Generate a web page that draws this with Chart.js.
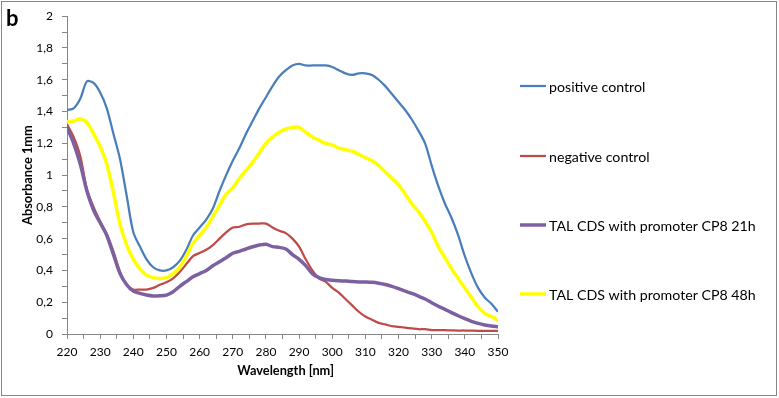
<!DOCTYPE html>
<html>
<head>
<meta charset="utf-8">
<script src="https://cdn.jsdelivr.net/npm/chart.js@4"></script>
<style>
  body { margin: 0; background: #fff; }
  #chart { display: block; }
</style>
</head>
<body>
<canvas id="chart" width="779" height="398"></canvas>
<script>
// wavelengths, 2 nm steps
const wavelengths = [220,222,224,226,228,230,232,234,236,238,240,242,244,246,248,250,252,254,256,258,260,262,264,266,268,270,272,274,276,278,280,282,284,286,288,290,292,294,296,298,300,302,304,306,308,310,312,314,316,318,320,322,324,326,328,330,332,334,336,338,340,342,344,346,348,350];

const positiveControl = [1.41,1.42,1.48,1.59,1.58,1.52,1.42,1.26,1.10,0.87,0.64,0.55,0.47,0.42,0.40,0.40,0.42,0.46,0.53,0.62,0.67,0.72,0.79,0.90,1.00,1.09,1.17,1.26,1.34,1.42,1.49,1.56,1.62,1.66,1.69,1.70,1.69,1.69,1.69,1.69,1.68,1.66,1.64,1.63,1.64,1.64,1.63,1.60,1.56,1.51,1.46,1.41,1.35,1.28,1.20,1.06,0.93,0.82,0.73,0.62,0.49,0.38,0.29,0.23,0.19,0.14];

const negativeControl = [1.32,1.24,1.12,0.91,0.80,0.71,0.63,0.52,0.39,0.31,0.28,0.28,0.28,0.29,0.31,0.325,0.35,0.39,0.44,0.49,0.51,0.53,0.56,0.60,0.64,0.67,0.675,0.69,0.695,0.695,0.695,0.67,0.65,0.635,0.60,0.55,0.47,0.40,0.35,0.33,0.29,0.26,0.22,0.18,0.14,0.11,0.09,0.07,0.06,0.05,0.045,0.04,0.035,0.03,0.03,0.025,0.025,0.024,0.023,0.022,0.022,0.021,0.02,0.02,0.02,0.02];

const cp8_21h = [1.30,1.20,1.07,0.90,0.78,0.70,0.62,0.50,0.38,0.31,0.27,0.256,0.245,0.239,0.24,0.245,0.266,0.30,0.33,0.36,0.38,0.40,0.43,0.455,0.48,0.508,0.52,0.535,0.549,0.56,0.565,0.55,0.545,0.535,0.50,0.47,0.43,0.38,0.355,0.343,0.338,0.335,0.333,0.33,0.328,0.327,0.325,0.32,0.312,0.30,0.285,0.27,0.255,0.238,0.22,0.197,0.175,0.155,0.135,0.115,0.097,0.08,0.067,0.057,0.05,0.045];

const cp8_48h = [1.335,1.34,1.355,1.33,1.26,1.18,1.07,0.89,0.69,0.56,0.47,0.41,0.37,0.355,0.35,0.355,0.38,0.42,0.49,0.57,0.62,0.67,0.74,0.81,0.88,0.92,0.98,1.03,1.08,1.14,1.20,1.24,1.27,1.29,1.30,1.30,1.27,1.24,1.22,1.20,1.19,1.17,1.16,1.15,1.13,1.11,1.09,1.06,1.02,0.98,0.94,0.88,0.82,0.77,0.71,0.64,0.55,0.48,0.41,0.35,0.29,0.23,0.17,0.13,0.11,0.085];

const seriesNames = ['positive control', 'negative control', 'TAL CDS with promoter CP8 21h', 'TAL CDS with promoter CP8 48h'];
const seriesColors = ['#4A7EBB', '#BE4B48', '#7D60A0', '#FFFF00'];
const seriesWidths = [2.25, 2.25, 3.5, 3.5];
const seriesValues = [positiveControl, negativeControl, cp8_21h, cp8_48h];

const FONT = 'Lato';
const axisGray = '#868686';

const datasets = seriesValues.map((vals, i) => ({
  label: seriesNames[i],
  data: vals.map((v, j) => ({ x: wavelengths[j], y: v })),
  borderColor: seriesColors[i],
  backgroundColor: seriesColors[i],
  borderWidth: seriesWidths[i],
  pointRadius: 0,
  tension: 0.3,
  order: 4 - i  // later series on top, like excel
}));

// frame, "b" and the legend on the right
const decorPlugin = {
  id: 'decor',
  beforeDraw(chart) {
    const c = chart.ctx;
    c.save();
    c.fillStyle = '#fff';
    c.fillRect(0, 0, chart.width, chart.height);
    c.strokeStyle = axisGray;
    c.lineWidth = 1;
    c.strokeRect(1.5, 1.5, 775, 394);
    c.restore();
  },
  afterDraw(chart) {
    const c = chart.ctx;
    c.save();
    c.fillStyle = '#000';
    c.font = 'bold 22px ' + FONT;
    c.textBaseline = 'alphabetic';
    c.fillText('b', 6, 26);

    const legendY = [86, 156, 225, 294];
    c.font = '14.2px ' + FONT;
    c.textBaseline = 'middle';
    seriesNames.forEach((name, i) => {
      c.strokeStyle = seriesColors[i];
      c.lineWidth = seriesWidths[i];
      c.beginPath();
      c.moveTo(520, legendY[i]);
      c.lineTo(546, legendY[i]);
      c.stroke();
      c.fillStyle = '#000';
      c.fillText(name, 549, legendY[i] + 1);
    });
    c.restore();
  }
};

new Chart(document.getElementById('chart'), {
  type: 'line',
  data: { datasets: datasets },
  options: {
    responsive: false,
    animation: false,
    events: [],
    layout: { padding: { left: 20, right: 281, top: 16, bottom: 19 } },
    plugins: {
      legend: { display: false },
      tooltip: { enabled: false }
    },
    scales: {
      x: {
        type: 'linear',
        min: 220,
        max: 350,
        afterFit: (scale) => { scale.height = 45; },
        ticks: {
          stepSize: 5,
          autoSkip: false,
          maxRotation: 0,
          color: '#000',
          font: { family: FONT, size: 12 },
          padding: 6,
          callback: (v) => (v % 10 === 0 ? String(v) : '')
        },
        grid: { drawOnChartArea: false, drawTicks: true, tickLength: 5, color: axisGray },
        border: { color: axisGray, width: 1 },
        title: {
          display: true,
          text: '  Wavelength [nm]',
          color: '#000',
          font: { family: FONT, size: 12.8, weight: 'bold' },
          padding: 0
        }
      },
      y: {
        min: 0,
        max: 2,
        afterFit: (scale) => { scale.width = 47; },
        ticks: {
          stepSize: 0.1,
          autoSkip: false,
          color: '#000',
          font: { family: FONT, size: 12 },
          padding: 9,
          callback: (v) => {
            const r = Math.round(v * 10);
            if (r % 2 !== 0) return '';
            return String(r / 10).replace('.', ',');
          }
        },
        grid: { drawOnChartArea: false, drawTicks: true, tickLength: 5, color: axisGray },
        border: { color: axisGray, width: 1 },
        title: {
          display: true,
          text: 'Absorbance 1mm',
          color: '#000',
          font: { family: FONT, size: 12.8, weight: 'bold' },
          padding: 0
        }
      }
    }
  },
  plugins: [decorPlugin]
});
</script>
</body>
</html>
